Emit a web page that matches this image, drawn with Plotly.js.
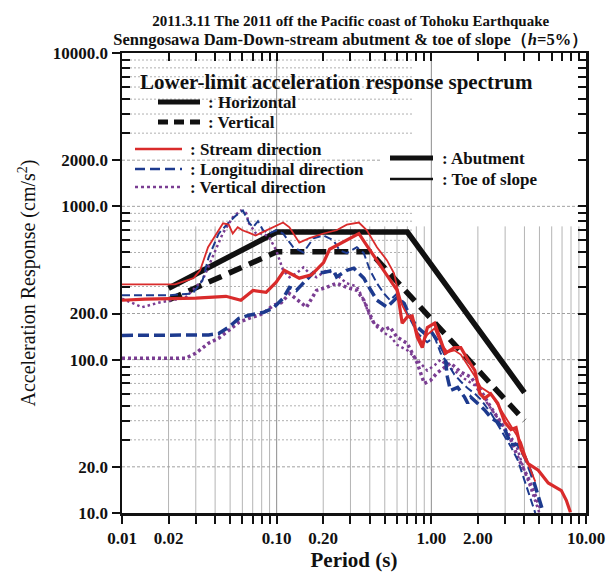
<!DOCTYPE html>
<html><head><meta charset="utf-8">
<script src="https://cdn.plot.ly/plotly-3.0.1.min.js"></script>
<style>html,body{margin:0;padding:0;background:#fff}#chart{width:610px;height:572px}</style>
</head><body><div id="chart"></div>
<script>
// ---- tick labels ----
const xTickVals = [0.01, 0.02, 0.1, 0.2, 1, 2, 10];
const xTickText = ['0.01', '0.02', '0.10', '0.20', '1.00', '2.00', '10.00'];
const xMinorVals = [0.03,0.04,0.05,0.06,0.07,0.08,0.09,0.3,0.4,0.5,0.6,0.7,0.8,0.9,3,4,5,6,7,8,9];
const yTickVals = [10, 20, 100, 200, 1000, 2000, 10000];
const yTickText = ['10.0', '20.0', '100.0', '200.0', '1000.0', '2000.0', '10000.0'];
const yMinorVals = [30,40,50,60,70,80,90,300,400,500,600,700,800,900,3000,4000,5000,6000,7000,8000,9000];

// ---- lower-limit acceleration response spectrum ----
const limitH_T = [0.02, 0.1, 0.7, 4.0];
const limitH_A = [292, 680, 680, 61];
const limitV_T = [0.02, 0.1, 0.4, 4.0];
const limitV_A = [245, 505, 505, 40];

// ---- Abutment (thick) / Toe of slope (thin) ----
const abutStream_T = [0.010,0.0141,0.030,0.047,0.0587,0.0703,0.0855,0.0993,0.112,0.140,0.168,0.201,0.220,0.284,0.340,0.383,0.465,0.541,0.601,0.619,0.648,0.698,0.752,0.811,0.874,0.942,1.05,1.15,1.23,1.41,1.55,1.72,1.91,2.06,2.21,2.42,2.69,2.99,3.27,3.53,3.80,4.22,4.91,5.70,6.93,7.46,7.93];
const abutStream_A = [244,248,252,259,244,283,275,320,383,340,357,430,525,600,665,555,415,330,283,233,173,190,193,140,120,162,173,134,110,120,120,100,85,60,56,60,52,39,35,36,26,21,19,15.7,14,12.1,10.1];

const toeStream_T = [0.010,0.015,0.022,0.029,0.032,0.036,0.042,0.045,0.049,0.052,0.056,0.060,0.066,0.073,0.080,0.095,0.110,0.121,0.140,0.163,0.201,0.244,0.284,0.340,0.383,0.445,0.517,0.574,0.601,0.65,0.70,0.75,0.81,0.87,0.94,1.05,1.15,1.27,1.41,1.55,1.72,1.91,2.09,2.42,2.82,3.27,3.80,4.22,4.70];
const toeStream_A = [310,310,310,340,383,541,698,775,760,665,730,698,674,645,674,730,784,730,580,620,665,698,760,784,698,541,444,366,297,225,195,180,150,128,145,160,128,112,115,108,92,78,66,60,47,37,29,21,16];

const abutLong_T = [0.010,0.020,0.0363,0.0422,0.049,0.057,0.0662,0.0817,0.0949,0.110,0.121,0.134,0.156,0.173,0.201,0.233,0.244,0.284,0.315,0.366,0.401,0.445,0.517,0.601,0.667,0.730,0.811,0.900,0.985,1.09,1.22,1.27,1.33,1.48,1.64,1.72,1.80,1.99,2.21,2.42,2.69,2.99,3.27,3.63,4.04,4.42,4.91,5.29];
const abutLong_A = [144,144,145,148,163,186,195,203,217,251,296,283,330,370,370,383,346,383,395,340,290,244,220,255,233,190,163,149,155,134,110,77,63,66,57,52,57,52,47,42,39,35,28,28,23,18.2,12.7,10.1];

const toeLong_T = [0.010,0.020,0.0286,0.0332,0.0363,0.0422,0.049,0.0545,0.0605,0.0662,0.0703,0.0757,0.0817,0.0894,0.0993,0.110,0.128,0.149,0.173,0.201,0.233,0.255,0.284,0.330,0.366,0.401,0.445,0.494,0.541,0.601,0.65,0.70,0.75,0.81,0.87,0.94,1.05,1.15,1.27,1.41,1.55,1.72,1.91,2.09,2.42,2.82,3.27,3.63,4.04,4.42,4.70];
const toeLong_A = [263,263,270,330,465,665,784,870,940,784,730,800,698,665,698,665,541,500,620,645,600,517,495,541,495,383,315,270,244,270,230,200,175,150,140,130,140,110,95,80,72,65,60,55,45,35,27,22,16,12,10];

const abutVert_T = [0.010,0.0257,0.0299,0.0363,0.0422,0.049,0.057,0.0662,0.0817,0.0949,0.107,0.121,0.138,0.156,0.181,0.210,0.244,0.284,0.330,0.366,0.425,0.494,0.541,0.601,0.698,0.811,0.900,0.985,1.09,1.22,1.33,1.55,1.80,2.09,2.42,2.82,3.27,3.63,4.22,4.69,5.13];
const abutVert_A = [102,102,110,128,138,156,175,186,200,226,235,270,244,220,283,296,315,296,283,244,173,156,163,140,128,95,70,73,82,89,95,83,77,63,49,39,30,23,17,13,10.5];

const toeVert_T = [0.010,0.0135,0.0172,0.0257,0.0332,0.0386,0.0448,0.0521,0.0587,0.0633,0.0662,0.0735,0.0817,0.0894,0.0993,0.110,0.121,0.134,0.149,0.163,0.181,0.210,0.244,0.284,0.330,0.366,0.401,0.445,0.494,0.55,0.60,0.70,0.81,0.94,1.05,1.15,1.27,1.41,1.64,1.91,2.21,2.56,2.99,3.53,3.80,4.22,4.69,5.0];
const toeVert_A = [250,220,235,254,330,465,665,850,940,905,775,665,665,630,517,383,345,365,400,365,345,383,357,315,300,244,190,163,150,140,125,115,100,85,92,100,90,85,75,68,55,45,36,28,22,16,12,10];

// ---- colours ----
const RED = '#d92b2b', BLUE = '#1d3a8e', PURPLE = '#7a3d92';
const FONT = 'Liberation Serif, Times New Roman, serif';

// ---- grid helper (lines as traces, data coords on log axes) ----
function vLines(vals, y0, y1) {
  const x = [], y = [];
  vals.forEach(v => { x.push(v, v, null); y.push(y0, y1, null); });
  return {x, y};
}
function hLines(vals, x0, x1) {
  const x = [], y = [];
  vals.forEach(v => { x.push(x0, x1, null); y.push(v, v, null); });
  return {x, y};
}
const gridCommon = {type: 'scatter', mode: 'lines', hoverinfo: 'skip', showlegend: false};

const vMinorAll = [0.02,0.03,0.04,0.05,0.06,0.07,0.08,0.09,0.2,0.3,0.4,0.5,0.6,0.7,0.8,0.9,2,3,4,5,6,7,8,9];
const hMinorPart = [30,40,50,60,70,80,90,300,400,500,600,700,800,900,3000,4000,5000,6000,7000,8000,9000];
const hMajorFull = [20,100,200,1000,2000];

const g1 = vLines(vMinorAll, 10, 740);
const g2 = hLines(hMinorPart, 0.01, 0.75);
const g3 = hLines(hMajorFull, 0.01, 10);
const g4 = vLines([0.1, 1], 10, 10000);

const traces = [
  Object.assign({}, gridCommon, {x: g1.x, y: g1.y, line: {color: '#b4b4b4', width: 1}}),
  Object.assign({}, gridCommon, {x: g2.x, y: g2.y, line: {color: '#b0b0b0', width: 1, dash: '2px,2px'}}),
  Object.assign({}, gridCommon, {x: g3.x, y: g3.y, line: {color: '#a0a0a0', width: 1, dash: '3px,2px'}}),
  // white box behind Abutment / Toe of slope legend
  Object.assign({}, gridCommon, {x: [0.47, 9.8, 9.8, 0.47, 0.47], y: [1150, 1150, 2700, 2700, 1150],
    fill: 'toself', fillcolor: '#ffffff', line: {width: 0}}),
  Object.assign({}, gridCommon, {x: g4.x, y: g4.y, line: {color: '#8c8c8c', width: 1}}),

  {x: limitH_T, y: limitH_A, mode: 'lines', line: {color: '#111', width: 5.5}, hoverinfo: 'skip', showlegend: false},
  {x: limitV_T, y: limitV_A, mode: 'lines', line: {color: '#111', width: 5.5, dash: '14px,8px'}, hoverinfo: 'skip', showlegend: false},

  {x: toeVert_T, y: toeVert_A, mode: 'lines', line: {color: PURPLE, width: 2.5, dash: '2.5px,3px'}, showlegend: false},
  {x: abutVert_T, y: abutVert_A, mode: 'lines', line: {color: PURPLE, width: 3.5, dash: '3px,3px'}, showlegend: false},
  {x: toeLong_T, y: toeLong_A, mode: 'lines', line: {color: BLUE, width: 2, dash: '8px,4px'}, showlegend: false},
  {x: abutLong_T, y: abutLong_A, mode: 'lines', line: {color: BLUE, width: 3.5, dash: '11px,5px'}, showlegend: false},
  {x: toeStream_T, y: toeStream_A, mode: 'lines', line: {color: RED, width: 1.8}, showlegend: false},
  {x: abutStream_T, y: abutStream_A, mode: 'lines', line: {color: RED, width: 3.2}, showlegend: false},

  // carrier for the mirrored top / right axes
  {x: [0.05], y: [100], xaxis: 'x2', yaxis: 'y2', mode: 'markers', marker: {opacity: 0}, hoverinfo: 'skip', showlegend: false}
];

// ---- legend samples (paper coords) ----
const L = 122, T = 53, W = 464, H = 460;
const px = v => (v - L) / W;
const py = v => (513 - v) / H;
function sample(x0, x1, y, color, width, dash) {
  return {type: 'line', xref: 'paper', yref: 'paper', x0: px(x0), x1: px(x1), y0: py(y), y1: py(y),
          line: {color: color, width: width, dash: dash || 'solid'}};
}
const shapes = [
  sample(158, 200, 102, '#111', 5),
  sample(158, 200, 122, '#111', 5, '10px,6px'),
  sample(135, 182, 149, RED, 2.5),
  sample(135, 182, 169, BLUE, 2.5, '10px,5px'),
  sample(135, 182, 187, PURPLE, 2.5, '3px,3px'),
  sample(390, 433, 158, '#111', 5),
  sample(390, 433, 179, '#111', 2.5)
];
function label(x, y, text, size) {
  return {xref: 'paper', yref: 'paper', x: px(x), y: py(y), xanchor: 'left', yanchor: 'middle',
          text: text, showarrow: false, font: {family: FONT, size: size, color: '#111', weight: 'bold'}};
}
const annotations = [
  label(138, 82, 'Lower-limit acceleration response spectrum', 21),
  label(206, 102, ': Horizontal', 17),
  label(206, 122, ': Vertical', 17),
  label(188, 149, ': Stream direction', 17),
  label(188, 169, ': Longitudinal direction', 17),
  label(188, 187, ': Vertical direction', 17),
  label(440, 158, ': Abutment', 17),
  label(440, 179, ': Toe of slope', 17)
];

const tickFont = {family: FONT, size: 17, color: '#111', weight: 'bold'};
const layout = {
  width: 610, height: 572,
  margin: {l: L, r: 610 - L - W, t: T, b: 572 - T - H},
  paper_bgcolor: '#fff', plot_bgcolor: '#fff',
  showlegend: false,
  title: {text: '2011.3.11 The 2011 off the Pacific coast of Tohoku Earthquake<br><span style="font-size:16.5px">Senngosawa Dam-Down-stream abutment &amp; toe of slope（<i>h</i>=5%）</span>',
          font: {family: FONT, size: 15, color: '#111', weight: 'bold'}, x: 0.575, xanchor: 'center', y: 0.955, yanchor: 'middle'},
  xaxis: {type: 'log', range: [-2, 1], showgrid: false, zeroline: false,
          showline: true, linecolor: '#111', linewidth: 2.5,
          tickmode: 'array', tickvals: xTickVals, ticktext: xTickText,
          ticks: 'outside', ticklen: 8, tickwidth: 2, tickcolor: '#111', tickfont: tickFont,
          minor: {tickvals: xMinorVals, ticks: 'outside', ticklen: 8, tickwidth: 2, tickcolor: '#111', showgrid: false},
          title: {text: 'Period (s)', font: {family: FONT, size: 21, color: '#111', weight: 'bold'}, standoff: 8},
          automargin: false},
  yaxis: {type: 'log', range: [1, 4], showgrid: false, zeroline: false,
          showline: true, linecolor: '#111', linewidth: 2.5,
          tickmode: 'array', tickvals: yTickVals, ticktext: yTickText,
          ticks: 'outside', ticklen: 8, tickwidth: 2, tickcolor: '#111', tickfont: tickFont,
          minor: {tickvals: yMinorVals, ticks: 'inside', ticklen: 8, tickwidth: 2, tickcolor: '#111', showgrid: false},
          title: {text: 'Acceleration Response (cm/s<sup>2</sup>)', font: {family: FONT, size: 20, color: '#111'}, standoff: 12},
          automargin: false},
  xaxis2: {type: 'log', range: [-2, 1], overlaying: 'x', side: 'top', anchor: 'y',
           showgrid: false, zeroline: false, showline: true, linecolor: '#111', linewidth: 2.5,
           tickmode: 'array', tickvals: xTickVals.concat(xMinorVals), showticklabels: false,
           ticks: 'inside', ticklen: 8, tickwidth: 2, tickcolor: '#111'},
  yaxis2: {type: 'log', range: [1, 4], overlaying: 'y', side: 'right', anchor: 'x',
           showgrid: false, zeroline: false, showline: true, linecolor: '#111', linewidth: 2.5,
           tickmode: 'array', tickvals: yTickVals.concat(yMinorVals), showticklabels: false,
           ticks: 'inside', ticklen: 8, tickwidth: 2, tickcolor: '#111'},
  shapes: shapes,
  annotations: annotations
};

Plotly.newPlot('chart', traces, layout, {displayModeBar: false, staticPlot: true});
</script>
</body></html>
